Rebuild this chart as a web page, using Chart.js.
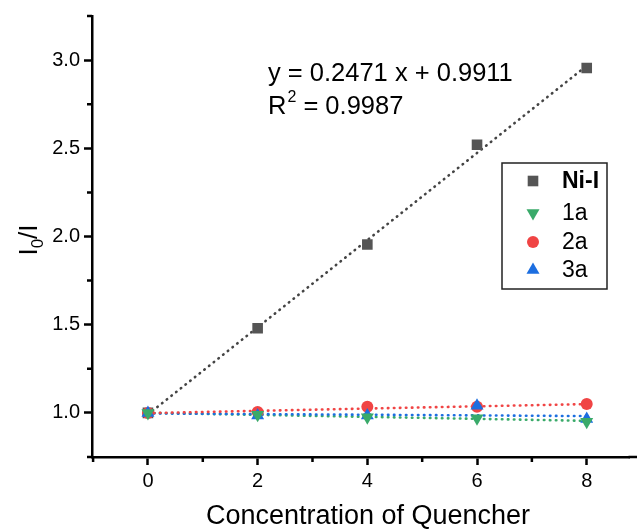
<!DOCTYPE html>
<html>
<head>
<meta charset="utf-8">
<script src="https://cdn.jsdelivr.net/npm/chart.js@4"></script>
<style>
  html, body { margin: 0; padding: 0; background: #fff; }
  #wrap { width: 637px; height: 530px; }
</style>
</head>
<body>
<div id="wrap"><canvas id="chart" width="637" height="530"></canvas></div>
<script>
// values
const concentration = [0, 2, 4, 6, 8];
const niI = [1.0, 1.48, 1.955, 2.52, 2.955];
const s1a = [1.0, 0.99, 0.975, 0.97, 0.95];
const s2a = [1.0, 1.005, 1.035, 1.035, 1.05];
const s3a = [1.0, 0.985, 0.985, 1.04, 0.965];

// fitted lines, value at x = 0 and x = 8
const fitX = [0, 8];
const niFit = [0.9911, 2.9679];
const fit1a = [1.0, 0.955];
const fit2a = [0.999, 1.05];
const fit3a = [0.997, 0.982];

const xMajor = [0, 2, 4, 6, 8];
const xMinor = [-1, 1, 3, 5, 7];
const yMajor = [1.0, 1.5, 2.0, 2.5, 3.0];
const yMinor = [0.75, 1.25, 1.75, 2.25, 2.75, 3.25];

const seriesNames = ['Ni-I', '1a', '2a', '3a'];
const colors = ['#555555', '#3aaa6a', '#f04444', '#1c6ee0'];

const FONT = '"Liberation Sans", Arial, sans-serif';

function pts(ys) { return ys.map((v, i) => ({ x: concentration[i], y: v })); }
function fit(ys) { return ys.map((v, i) => ({ x: fitX[i], y: v })); }

function fitSet(ys, color) {
  return {
    type: 'line', data: fit(ys), borderColor: color, borderWidth: 2.6,
    borderDash: [0.5, 5.5], borderCapStyle: 'round', pointRadius: 0,
    fill: false, order: 10, label: '_fit'
  };
}

const marker = [
  { pointStyle: 'rect', radius: 7.5, rotation: 0 },
  { pointStyle: 'triangle', radius: 7.5, rotation: 180 },
  { pointStyle: 'circle', radius: 6, rotation: 0 },
  { pointStyle: 'triangle', radius: 7.5, rotation: 0 }
];

function scatterSet(i, ys, order) {
  return {
    type: 'scatter', label: seriesNames[i], data: pts(ys),
    backgroundColor: colors[i], borderColor: colors[i], borderWidth: 0,
    pointStyle: marker[i].pointStyle, pointRadius: marker[i].radius,
    pointRotation: marker[i].rotation, order: order
  };
}

const decor = {
  id: 'decor',
  afterDraw(chart) {
    const ctx = chart.ctx;
    const xs = chart.scales.x, ys = chart.scales.y;
    const area = chart.chartArea;
    ctx.save();
    // minor ticks, and the x axis line running on to the edge
    ctx.strokeStyle = '#000';
    ctx.lineWidth = 2.5;
    ctx.beginPath();
    xMinor.forEach(v => {
      const px = xs.getPixelForValue(v);
      ctx.moveTo(px, area.bottom); ctx.lineTo(px, area.bottom + 5);
    });
    yMinor.forEach(v => {
      const py = ys.getPixelForValue(v);
      ctx.moveTo(area.left, py); ctx.lineTo(area.left - 5, py);
    });
    ctx.moveTo(area.right - 1, area.bottom); ctx.lineTo(chart.width, area.bottom);
    ctx.stroke();

    // equation
    ctx.fillStyle = '#000';
    ctx.textBaseline = 'alphabetic';
    ctx.textAlign = 'left';
    ctx.font = '25.5px ' + FONT;
    ctx.fillText('y = 0.2471 x + 0.9911', 268, 81);
    ctx.fillText('R', 268, 114);
    let w = ctx.measureText('R').width;
    ctx.font = '16px ' + FONT;
    ctx.fillText('2', 268 + w + 1, 102);
    let w2 = ctx.measureText('2').width;
    ctx.font = '25.5px ' + FONT;
    ctx.fillText(' = 0.9987', 268 + w + w2 + 1, 114);

    // legend
    ctx.lineWidth = 1.5;
    ctx.strokeStyle = '#222';
    ctx.strokeRect(502, 163, 105, 126);
    const rows = [181, 213, 242, 270];
    seriesNames.forEach((n, i) => {
      ctx.fillStyle = colors[i];
      Chart.helpers.drawPoint(ctx, { pointStyle: marker[i].pointStyle, radius: marker[i].radius,
        rotation: marker[i].rotation, borderWidth: 0 }, 533, rows[i]);
      ctx.fillStyle = '#000';
      ctx.font = (i === 0 ? 'bold ' : '') + '23px ' + FONT;
      ctx.textBaseline = 'middle';
      ctx.fillText(n, 562, rows[i] + 1);
    });

    // axis titles
    ctx.textBaseline = 'alphabetic';
    ctx.textAlign = 'center';
    ctx.font = '27px ' + FONT;
    ctx.fillText('Concentration of Quencher', 368, 524);

    ctx.translate(37, 240);
    ctx.rotate(-Math.PI / 2);
    ctx.textAlign = 'left';
    ctx.font = '26px ' + FONT;
    const a = ctx.measureText('I').width;
    ctx.font = '17px ' + FONT;
    const b = ctx.measureText('0').width;
    ctx.font = '26px ' + FONT;
    const c = ctx.measureText('/I').width;
    let x0 = -(a + b + c) / 2;
    ctx.fillText('I', x0, 0);
    ctx.font = '17px ' + FONT;
    ctx.fillText('0', x0 + a, 6);
    ctx.font = '26px ' + FONT;
    ctx.fillText('/I', x0 + a + b, 0);
    ctx.restore();
  }
};

new Chart(document.getElementById('chart'), {
  type: 'scatter',
  data: {
    datasets: [
      fitSet(niFit, '#444444'),
      fitSet(fit2a, colors[2]),
      fitSet(fit3a, colors[3]),
      fitSet(fit1a, colors[1]),
      scatterSet(0, niI, 4),
      scatterSet(1, s1a, 1),
      scatterSet(2, s2a, 3),
      scatterSet(3, s3a, 2)
    ]
  },
  options: {
    responsive: false,
    animation: false,
    layout: { padding: { top: 14, right: 0, left: 0, bottom: 0 } },
    plugins: { legend: { display: false }, tooltip: { enabled: false } },
    scales: {
      x: {
        type: 'linear', min: -1.02, max: 8.78,
        afterBuildTicks: s => { s.ticks = xMajor.map(v => ({ value: v })); },
        afterFit: s => { s.height = 73; },
        grid: { drawOnChartArea: false, tickLength: 8, tickWidth: 2.5, color: '#000' },
        border: { width: 2.5, color: '#000' },
        ticks: { color: '#000', padding: 4, font: { family: FONT, size: 20 }, maxRotation: 0 }
      },
      y: {
        type: 'linear', min: 0.75, max: 3.25,
        afterBuildTicks: s => { s.ticks = yMajor.map(v => ({ value: v })); },
        afterFit: s => { s.width = 92; },
        grid: { drawOnChartArea: false, tickLength: 8, tickWidth: 2.5, color: '#000' },
        border: { width: 2.5, color: '#000' },
        ticks: { color: '#000', padding: 4, font: { family: FONT, size: 20 },
          callback: v => v.toFixed(1) }
      }
    }
  },
  plugins: [decor]
});
</script>
</body>
</html>
